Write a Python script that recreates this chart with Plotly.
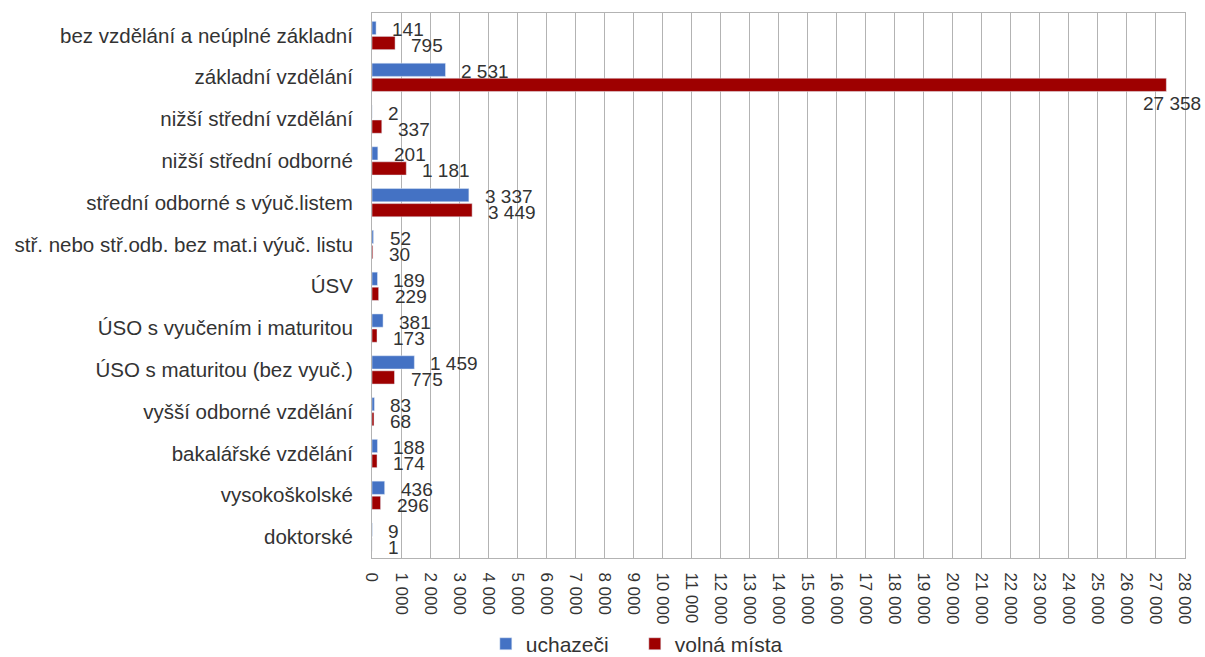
import plotly.graph_objects as go

categories = [
    "bez vzdělání a neúplné základní",
    "základní vzdělání",
    "nižší střední vzdělání",
    "nižší střední odborné",
    "střední odborné s výuč.listem",
    "stř. nebo stř.odb. bez mat.i výuč. listu",
    "ÚSV",
    "ÚSO s vyučením i maturitou",
    "ÚSO s maturitou (bez vyuč.)",
    "vyšší odborné vzdělání",
    "bakalářské vzdělání",
    "vysokoškolské",
    "doktorské",
]
uchazeci = [141, 2531, 2, 201, 3337, 52, 189, 381, 1459, 83, 188, 436, 9]
volna_mista = [795, 27358, 337, 1181, 3449, 30, 229, 173, 775, 68, 174, 296, 1]
tick_vals = list(range(0, 28001, 1000))
tick_text = [f"{v:,}".replace(",", " ") for v in tick_vals]

BLUE = "#4472C4"
RED = "#9E0000"
TXT = "#333333"
GRID = "#b3b3b3"
FONT = "Liberation Sans, Arial, sans-serif"
XMAX = 28000

fig = go.Figure()
fig.add_trace(go.Bar(y=categories, x=uchazeci, name="uchazeči", orientation="h",
                     marker=dict(color=BLUE)))
fig.add_trace(go.Bar(y=categories, x=volna_mista, name="volná místa", orientation="h",
                     marker=dict(color=RED)))

def fmt(v):
    return f"{v:,}".replace(",", " ")

annotations = []
for series, ysh in ((uchazeci, 6), (volna_mista, -10)):
    for cat, v in zip(categories, series):
        if v > 0.9 * XMAX:
            annotations.append(dict(x=v, y=cat, xref="x", yref="y", text=fmt(v),
                                    showarrow=False, xanchor="center", xshift=6,
                                    yshift=-26, font=dict(size=19, color=TXT, family=FONT)))
        else:
            annotations.append(dict(x=v, y=cat, xref="x", yref="y", text=fmt(v),
                                    showarrow=False, xanchor="left", xshift=14,
                                    yshift=ysh, font=dict(size=19, color=TXT, family=FONT)))

fig.update_layout(
    width=1205, height=657,
    margin=dict(l=372, r=20, t=13, b=99, autoexpand=False),
    paper_bgcolor="white", plot_bgcolor="white",
    barmode="group", bargap=0.28, bargroupgap=0.12,
    font=dict(family=FONT, size=19, color=TXT),
    showlegend=True,
    legend=dict(orientation="h", x=0.14, xanchor="left", y=-0.158, yanchor="middle",
                bgcolor="rgba(0,0,0,0)",
                font=dict(size=21, color=TXT), itemwidth=30, traceorder="normal",
                entrywidth=104, entrywidthmode="pixels"),
    annotations=annotations,
)
fig.update_xaxes(range=[0, XMAX], tickvals=tick_vals, ticktext=tick_text, tickangle=90,
                 showgrid=True, gridcolor=GRID, gridwidth=1, zeroline=False,
                 showline=True, linecolor=GRID, linewidth=1, mirror=True, automargin=False,
                 ticks="", ticklabelstandoff=10, tickfont=dict(size=17, color=TXT))
fig.update_yaxes(autorange="reversed", showgrid=False, zeroline=False,
                 showline=True, linecolor=GRID, linewidth=1, mirror=True, automargin=False,
                 ticks="", ticklabelstandoff=14, tickfont=dict(size=20.5, color=TXT))

fig.write_html("out.html", config={"displayModeBar": False},
               post_script="document.body.style.margin='0';")
